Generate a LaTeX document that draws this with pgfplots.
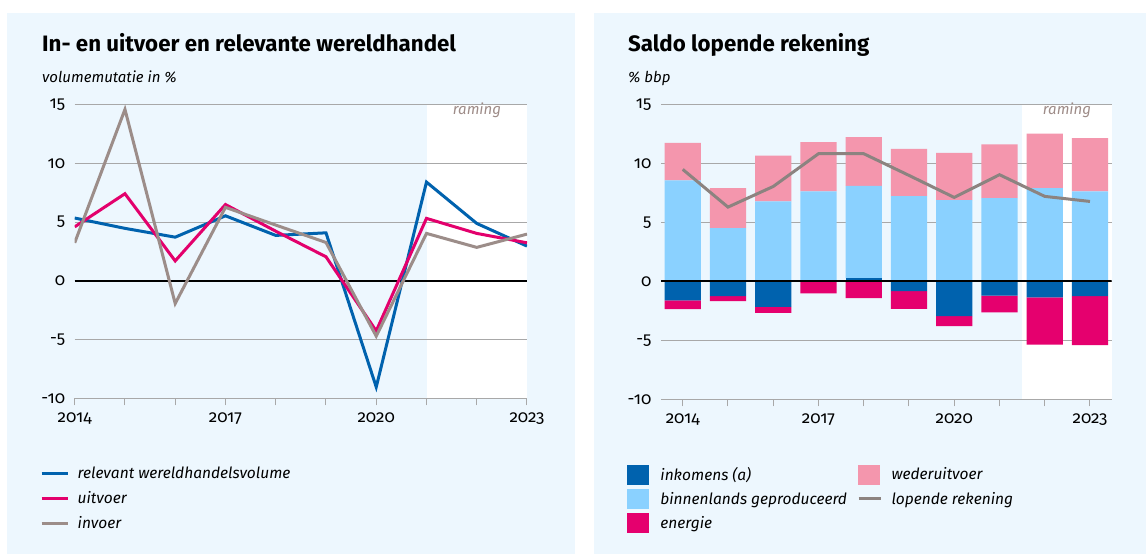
\documentclass[border=0pt]{standalone}
\usepackage{fontspec}
\setmainfont{Fira Sans}[Numbers=OldStyle]
\usepackage{pgfplots}
\pgfplotsset{compat=1.18}
\definecolor{panelbg}{HTML}{EDF7FE}
\definecolor{cblue}{HTML}{0062AE}
\definecolor{cpink}{HTML}{E3006C}
\definecolor{cgrey}{HTML}{9C8D89}
\definecolor{lrgrey}{HTML}{8C8380}
\definecolor{clight}{HTML}{8AD1FF}
\definecolor{cweder}{HTML}{F496AD}
\definecolor{cenergy}{HTML}{E5006E}
\definecolor{gridgrey}{HTML}{A8A8A8}
\definecolor{ramgrey}{HTML}{9E8C88}

\pgfplotstableread{
year blue pink grey
2014 5.35 4.60 3.24
2015 4.47 7.42 14.60
2016 3.72 1.70 -1.93
2017 5.54 6.50 6.26
2018 3.87 4.23 4.75
2019 4.09 2.05 3.27
2020 -9.04 -4.26 -4.71
2021 8.41 5.32 4.04
2022 4.89 4.04 2.85
2023 2.96 3.24 3.98
}\handel

\pgfplotstableread{
x inkpos inkneg bin weder en lr
0 0.00 -1.61 8.57 3.20 -0.74 9.51
1 0.00 -1.25 4.53 3.39 -0.42 6.31
2 0.00 -2.15 6.79 3.88 -0.51 8.06
3 0.00 0.00 7.64 4.19 -1.02 10.84
4 0.28 0.00 7.84 4.13 -1.42 10.84
5 0.00 -0.82 7.24 4.02 -1.50 9.00
6 0.00 -2.95 6.90 4.02 -0.84 7.13
7 0.00 -1.21 7.07 4.56 -1.42 9.06
8 0.00 -1.36 7.92 4.62 -4.01 7.22
9 0.00 -1.25 7.64 4.53 -4.15 6.79
}\saldo

\pgfplotsset{
  cpbbase/.style={
    scale only axis,
    axis line style={draw=none},
    ymin=-10, ymax=15,
    ytick={-10,-5,0,5,10,15},
    ymajorgrids,
    grid style={color=gridgrey, line width=1pt},
    xtick pos=bottom,
    ytick style={draw=none},
    x tick style={color=gridgrey, line width=1pt},
    tick align=outside,
    major tick length=7pt,
    tick label style={font=\fontsize{17}{17}\selectfont},
    /pgf/number format/assume math mode=true,
    yticklabel style={xshift=1pt},
    xticklabel style={yshift=-4pt},
  },
  cpbhidden/.style={
    scale only axis, hide axis,
    ymin=-10, ymax=15,
  },
}

\begin{document}
\begin{tikzpicture}
\useasboundingbox (0pt,0pt) rectangle (1146pt,554pt);
\fill[white] (0pt,0pt) rectangle (1146pt,554pt);
\fill[panelbg] (7pt,0pt) rectangle (575pt,541pt);
\fill[panelbg] (594pt,0pt) rectangle (1146pt,541pt);
% raming areas
\fill[white] (426.7pt,155.7pt) rectangle (527.3pt,449.3pt);
\fill[white] (1022pt,154.7pt) rectangle (1111.7pt,449.3pt);

% titles
\node[anchor=base west, inner sep=0pt, font=\bfseries\fontsize{22.3}{22.3}\selectfont] at (42pt,502pt) {In- en uitvoer en relevante wereldhandel};
\node[anchor=base west, inner sep=0pt, font=\itshape\fontsize{15}{15}\selectfont] at (42pt,471pt) {volumemutatie in \%};
\node[anchor=base west, inner sep=0pt, font=\bfseries\fontsize{22.3}{22.3}\selectfont] at (628pt,502pt) {Saldo lopende rekening};
\node[anchor=base west, inner sep=0pt, font=\itshape\fontsize{15}{15}\selectfont] at (628pt,471pt) {\% bbp};
\node[anchor=base, inner sep=0pt, text=ramgrey, font=\itshape\fontsize{15}{15}\selectfont] at (477pt,439pt) {raming};
\node[anchor=base, inner sep=0pt, text=ramgrey, font=\itshape\fontsize{15}{15}\selectfont] at (1067pt,439pt) {raming};

% ---------------- left chart
\begin{axis}[cpbbase,
  at={(74.7pt,155.7pt)}, anchor=south west,
  width=452.3pt, height=293.6pt,
  xmin=2014, xmax=2023,
  xtick={2014,...,2023},
  xticklabels={2014,,,2017,,,2020,,,2023},
  legend style={at={(-0.0767,-0.222)}, anchor=north west, draw=none, fill=none,
    inner sep=0pt, row sep=6pt, font=\itshape\fontsize{15.5}{15.5}\selectfont,
    nodes={inner sep=0pt}, cells={anchor=west}},
  legend image code/.code={\path[draw=none, fill=none] (0pt,-9.5pt) rectangle (36pt,9.5pt); \draw[#1] (0pt,0pt) -- (26pt,0pt);},
]
\draw[black, line width=2pt] (axis cs:2014,0) -- (axis cs:2023,0);
\addplot[cblue, line width=3pt] table[x=year, y=blue] {\handel};
\addlegendentry{relevant wereldhandelsvolume}
\addplot[cpink, line width=3pt] table[x=year, y=pink] {\handel};
\addlegendentry{uitvoer}
\addplot[cgrey, line width=3pt] table[x=year, y=grey] {\handel};
\addlegendentry{invoer}
\end{axis}

% ---------------- right chart: positive parts
\begin{axis}[cpbbase,
  at={(661pt,154.7pt)}, anchor=south west,
  width=450.7pt, height=294.6pt,
  xmin=-0.48, xmax=9.48,
  xtick={0,...,9},
  xticklabels={2014,,,2017,,,2020,,,2023},
  ybar stacked, bar width=36.2pt,
]
\addplot[fill=cblue, draw=none] table[x=x, y=inkpos] {\saldo};
\addplot[fill=clight, draw=none] table[x=x, y=bin] {\saldo};
\addplot[fill=cweder, draw=none] table[x=x, y=weder] {\saldo};
\end{axis}
% negative parts
\begin{axis}[cpbhidden,
  at={(661pt,154.7pt)}, anchor=south west,
  width=450.7pt, height=294.6pt,
  xmin=-0.48, xmax=9.48,
  ybar stacked, bar width=36.2pt,
]
\addplot[fill=cblue, draw=none] table[x=x, y=inkneg] {\saldo};
\addplot[fill=cenergy, draw=none] table[x=x, y=en] {\saldo};
\end{axis}
% line, zero line and legend
\begin{axis}[cpbhidden,
  at={(661pt,154.7pt)}, anchor=south west,
  width=450.7pt, height=294.6pt,
  xmin=-0.48, xmax=9.48,
  legend columns=2,
  legend style={at={(-0.0754,-0.2213)}, anchor=north west, draw=none, fill=none,
    inner sep=0pt, row sep=5pt, font=\itshape\fontsize{15.5}{15.5}\selectfont,
    nodes={inner sep=0pt}, cells={anchor=west},
    /tikz/every even column/.append style={column sep=10pt}},
]
\addlegendimage{legend image code/.code={\path[draw=none, fill=none] (0pt,-9.5pt) rectangle (33pt,9.5pt); \fill[cblue] (0pt,-9.5pt) rectangle (21pt,9.5pt);}}
\addlegendentry{inkomens (a)}
\addlegendimage{legend image code/.code={\path[draw=none, fill=none] (0pt,-9.5pt) rectangle (33pt,9.5pt); \fill[cweder] (0pt,-9.5pt) rectangle (21pt,9.5pt);}}
\addlegendentry{wederuitvoer}
\addlegendimage{legend image code/.code={\path[draw=none, fill=none] (0pt,-9.5pt) rectangle (33pt,9.5pt); \fill[clight] (0pt,-9.5pt) rectangle (21pt,9.5pt);}}
\addlegendentry{binnenlands geproduceerd}
\addlegendimage{legend image code/.code={\path[draw=none, fill=none] (0pt,-9.5pt) rectangle (33pt,9.5pt); \draw[lrgrey, line width=3pt] (0pt,0pt) -- (22pt,0pt);}}
\addlegendentry{lopende rekening}
\addlegendimage{legend image code/.code={\path[draw=none, fill=none] (0pt,-9.5pt) rectangle (33pt,9.5pt); \fill[cenergy] (0pt,-9.5pt) rectangle (21pt,9.5pt);}}
\addlegendentry{energie}
\draw[black, line width=2pt] (axis cs:-0.48,0) -- (axis cs:9.48,0);
\addplot[lrgrey, line width=3pt, forget plot] table[x=x, y=lr] {\saldo};
\end{axis}
\end{tikzpicture}
\end{document}
